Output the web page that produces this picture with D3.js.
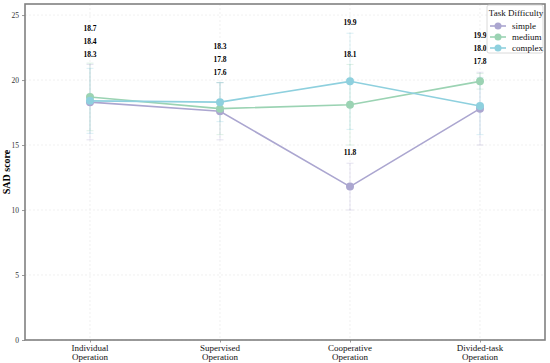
<!DOCTYPE html>
<html>
<head>
<meta charset="utf-8">
<script src="https://cdn.jsdelivr.net/npm/d3@7"></script>
<style>
  body { margin: 0; background: #fff; }
  svg text { font-family: "Liberation Serif", "DejaVu Serif", serif !important; }
</style>
</head>
<body>
<div class="chart"></div>
<script>
// categories and series
var categories = ["Individual\nOperation", "Supervised\nOperation", "Cooperative\nOperation", "Divided-task\nOperation"];
var seriesNames = ["simple", "medium", "complex"];
var simpleValues = [18.3, 17.6, 11.8, 17.8];
var mediumValues = [18.7, 17.8, 18.1, 19.9];
var complexValues = [18.4, 18.3, 19.9, 18.0];
// error bar half-widths (estimated)
var simpleErr = [2.9, 2.2, 1.8, 2.8];
var mediumErr = [2.6, 2.0, 3.1, 0.6];
var complexErr = [2.5, 1.5, 3.7, 2.2];
var yTicks = [0, 5, 10, 15, 20, 25];

var colors = ["#aba6d0", "#9bd3b3", "#8ed0de"];

var svgWidth = 550;
var svgHeight = 363;
var margin = { top: 4, right: 5, bottom: 23, left: 25 };
var chartWidth = svgWidth - margin.left - margin.right;
var chartHeight = svgHeight - margin.top - margin.bottom;

var series = [
  { name: seriesNames[0], values: simpleValues, err: simpleErr, color: colors[0] },
  { name: seriesNames[1], values: mediumValues, err: mediumErr, color: colors[1] },
  { name: seriesNames[2], values: complexValues, err: complexErr, color: colors[2] }
];

var svg = d3.select(".chart")
  .append("svg")
  .attr("width", svgWidth)
  .attr("height", svgHeight)
  .attr("font-family", "Liberation Serif, serif");

var chartGroup = svg.append("g")
  .attr("transform", `translate(${margin.left}, ${margin.top})`);

var xScale = d3.scalePoint()
  .domain(d3.range(categories.length))
  .range([0, chartWidth])
  .padding(0.5);

var yScale = d3.scaleLinear()
  .domain([0, 25.85])
  .range([chartHeight, 0]);

// grid
chartGroup.append("g")
  .selectAll("line")
  .data(yTicks)
  .join("line")
  .attr("x1", 0).attr("x2", chartWidth)
  .attr("y1", d => yScale(d)).attr("y2", d => yScale(d))
  .attr("stroke", "#e6e6e6")
  .attr("stroke-width", 0.6)
  .attr("stroke-dasharray", "2,2");

chartGroup.append("g")
  .selectAll("line")
  .data(d3.range(categories.length))
  .join("line")
  .attr("x1", d => xScale(d)).attr("x2", d => xScale(d))
  .attr("y1", 0).attr("y2", chartHeight)
  .attr("stroke", "#e6e6e6")
  .attr("stroke-width", 0.6)
  .attr("stroke-dasharray", "2,2");

// error bars
series.forEach(function(s) {
  var g = chartGroup.append("g")
    .attr("stroke", s.color)
    .attr("stroke-opacity", 0.4)
    .attr("stroke-width", 0.8);
  s.values.forEach(function(v, i) {
    var x = xScale(i);
    g.append("line")
      .attr("x1", x).attr("x2", x)
      .attr("y1", yScale(v - s.err[i])).attr("y2", yScale(v + s.err[i]));
    [v - s.err[i], v + s.err[i]].forEach(function(e) {
      g.append("line")
        .attr("x1", x - 3.5).attr("x2", x + 3.5)
        .attr("y1", yScale(e)).attr("y2", yScale(e));
    });
  });
});

// lines and markers
var drawLine = d3.line()
  .x((d, i) => xScale(i))
  .y(d => yScale(d));

series.forEach(function(s) {
  chartGroup.append("path")
    .attr("d", drawLine(s.values))
    .attr("fill", "none")
    .attr("stroke", s.color)
    .attr("stroke-width", 1.6);
  chartGroup.append("g")
    .selectAll("circle")
    .data(s.values)
    .join("circle")
    .attr("cx", (d, i) => xScale(i))
    .attr("cy", d => yScale(d))
    .attr("r", 4)
    .attr("fill", s.color);
});

// value labels, stacked above the error bars in ascending order
categories.forEach(function(c, i) {
  var pts = series.map(s => ({ v: s.values[i], top: s.values[i] + s.err[i] }))
    .sort((a, b) => a.v - b.v);
  var prev = -Infinity;
  pts.forEach(function(p) {
    var y = Math.max(p.top + 0.6, prev + 1.0);
    prev = y;
    chartGroup.append("text")
      .attr("x", xScale(i))
      .attr("y", yScale(y))
      .attr("text-anchor", "middle")
      .attr("font-size", 7.5)
      .attr("font-weight", "bold")
      .attr("fill", "#000")
      .text(p.v.toFixed(1));
  });
});

// axes
var leftAxis = d3.axisLeft(yScale).tickValues(yTicks).tickSize(3).tickPadding(3);
var yAxisG = chartGroup.append("g").call(leftAxis);
yAxisG.attr("font-family", null);
yAxisG.select(".domain").remove();
yAxisG.selectAll("line").attr("stroke", "#555").attr("stroke-width", 0.6);
yAxisG.selectAll("text").attr("font-size", 7.5).attr("fill", "#333");

var bottomAxis = d3.axisBottom(xScale).tickSize(2.5).tickFormat("");
var xAxisG = chartGroup.append("g")
  .attr("transform", `translate(0, ${chartHeight})`)
  .call(bottomAxis);
xAxisG.select(".domain").remove();
xAxisG.selectAll("line").attr("stroke", "#555").attr("stroke-width", 0.6);

// two-line category labels
chartGroup.append("g")
  .selectAll("text")
  .data(categories)
  .join("text")
  .attr("x", (d, i) => xScale(i))
  .attr("y", chartHeight + 11)
  .attr("text-anchor", "middle")
  .attr("font-size", 9)
  .attr("fill", "#111")
  .each(function(d) {
    var lines = d.split("\n");
    d3.select(this).selectAll("tspan")
      .data(lines)
      .join("tspan")
      .attr("x", d3.select(this).attr("x"))
      .attr("dy", (l, j) => j === 0 ? 0 : 9)
      .text(l => l);
  });

// frame
chartGroup.append("rect")
  .attr("x", 0).attr("y", 0)
  .attr("width", chartWidth).attr("height", chartHeight)
  .attr("fill", "none")
  .attr("stroke", "#808080")
  .attr("stroke-width", 1.6);

// y axis title
svg.append("text")
  .attr("transform", `translate(10, ${margin.top + chartHeight / 2}) rotate(-90)`)
  .attr("text-anchor", "middle")
  .attr("font-size", 10)
  .attr("font-weight", "bold")
  .attr("fill", "#000")
  .text("SAD score");

// legend
var legend = svg.append("g")
  .attr("transform", "translate(487, 5)");
legend.append("rect")
  .attr("width", 56).attr("height", 48)
  .attr("rx", 2)
  .attr("fill", "#fff")
  .attr("fill-opacity", 0.85)
  .attr("stroke", "#d0d0d0")
  .attr("stroke-width", 0.8);
legend.append("text")
  .attr("x", 29).attr("y", 11)
  .attr("text-anchor", "middle")
  .attr("font-size", 9)
  .attr("fill", "#111")
  .text("Task Difficulty");
series.forEach(function(s, i) {
  var row = legend.append("g").attr("transform", `translate(0, ${21 + i * 11})`);
  row.append("line")
    .attr("x1", 3).attr("x2", 19)
    .attr("stroke", s.color).attr("stroke-width", 1.6);
  row.append("circle")
    .attr("cx", 11).attr("r", 3.5).attr("fill", s.color);
  row.append("text")
    .attr("x", 25).attr("y", 3)
    .attr("font-size", 9)
    .attr("fill", "#111")
    .text(s.name);
});
</script>
</body>
</html>
